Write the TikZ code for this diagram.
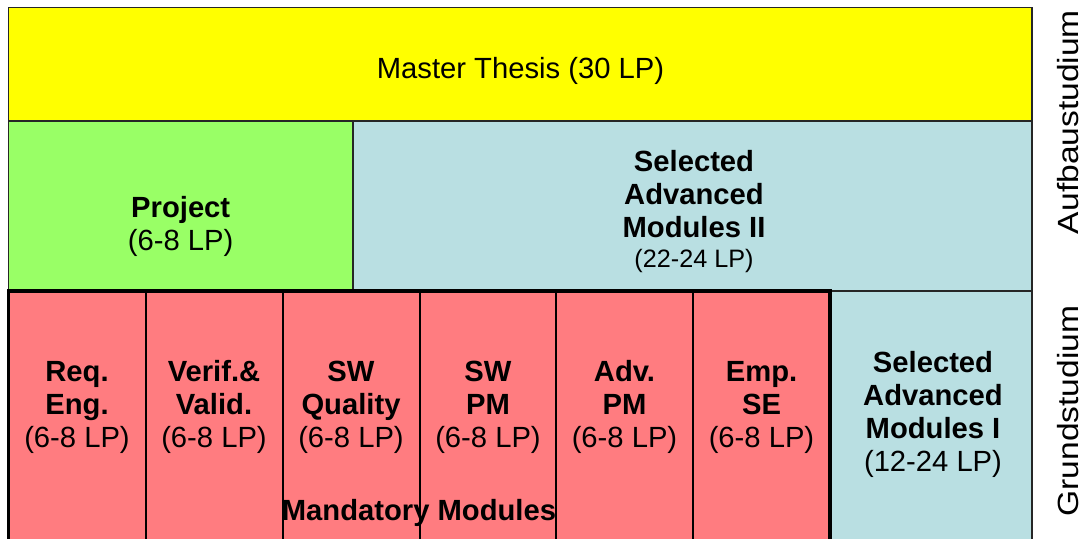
\documentclass[tikz,border=0pt]{standalone}
\usepackage{fontspec}
\setmainfont{Liberation Sans}
\definecolor{thesisyellow}{HTML}{FFFF00}
\definecolor{projectgreen}{HTML}{99FF66}
\definecolor{electiveblue}{HTML}{B9DFE2}
\definecolor{mandatoryred}{HTML}{FF7C80}
\begin{document}
\begin{tikzpicture}[x=0.5pt, y=-0.5pt,
  cell/.style={draw=black!85, line width=0.75pt},
  redcell/.style={draw=black, line width=1pt, fill=mandatoryred},
  lbl/.style={align=center, anchor=base, font=\fontsize{14.6}{16.5}\selectfont},
  side/.style={anchor=base, inner sep=0pt, rotate=90, xscale=1.15, font=\fontsize{14.6}{16.5}\selectfont}]
\useasboundingbox (0,0) rectangle (1081,538);
\clip (0,0) rectangle (1081,538);
% upper rows
\draw[cell, fill=thesisyellow] (8.5,7.5) rectangle (1032,121);
\draw[cell, fill=projectgreen] (8.5,121) rectangle (353,291);
\draw[cell, fill=electiveblue] (353,121) rectangle (1032,291);
\draw[cell, fill=electiveblue] (830,291) rectangle (1032,560);
% mandatory columns
\draw[redcell] (8.5,291) rectangle (145.5,560);
\draw[redcell] (145.5,291) rectangle (282.5,560);
\draw[redcell] (282.5,291) rectangle (419.5,560);
\draw[redcell] (419.5,291) rectangle (556,560);
\draw[redcell] (556,291) rectangle (693,560);
\draw[redcell] (693,291) rectangle (830,560);
\draw[line width=1.75pt] (8.5,291) rectangle (830,560);
% texts (multi-line nodes sit on their last baseline)
\node[lbl] (thesis) at (520.5,78.3) {Master Thesis (30 LP)};
\node[lbl] (project) at (180.7,250) {\textbf{Project}\\(6-8 LP)};
\node[lbl] (selectedII) at (694,267.3) {\textbf{Selected}\\\textbf{Advanced}\\\textbf{Modules II}\\[-1.5pt]{\fontsize{12.6}{15}\selectfont (22-24 LP)}};
\node[lbl] (reqeng) at (77,447) {\textbf{Req.}\\\textbf{Eng.}\\(6-8 LP)};
\node[lbl] (verif) at (214,447) {\textbf{Verif.\&}\\\textbf{Valid.}\\(6-8 LP)};
\node[lbl] (swqual) at (351,447) {\textbf{SW}\\\textbf{Quality}\\(6-8 LP)};
\node[lbl] (swpm) at (488,447) {\textbf{SW}\\\textbf{PM}\\(6-8 LP)};
\node[lbl] (advpm) at (624.5,447) {\textbf{Adv.}\\\textbf{PM}\\(6-8 LP)};
\node[lbl] (empse) at (761.5,447) {\textbf{Emp.}\\\textbf{SE}\\(6-8 LP)};
\node[lbl] (selectedI) at (933,471.7) {\textbf{Selected}\\\textbf{Advanced}\\\textbf{Modules I}\\(12-24 LP)};
\node[lbl] (mandatory) at (419,520) {\textbf{Mandatory Modules}};
\node[side] (aufbau) at (1078.5,122) {Aufbaustudium};
\node[side] (grund) at (1078.5,411) {Grundstudium};
\end{tikzpicture}
\end{document}
